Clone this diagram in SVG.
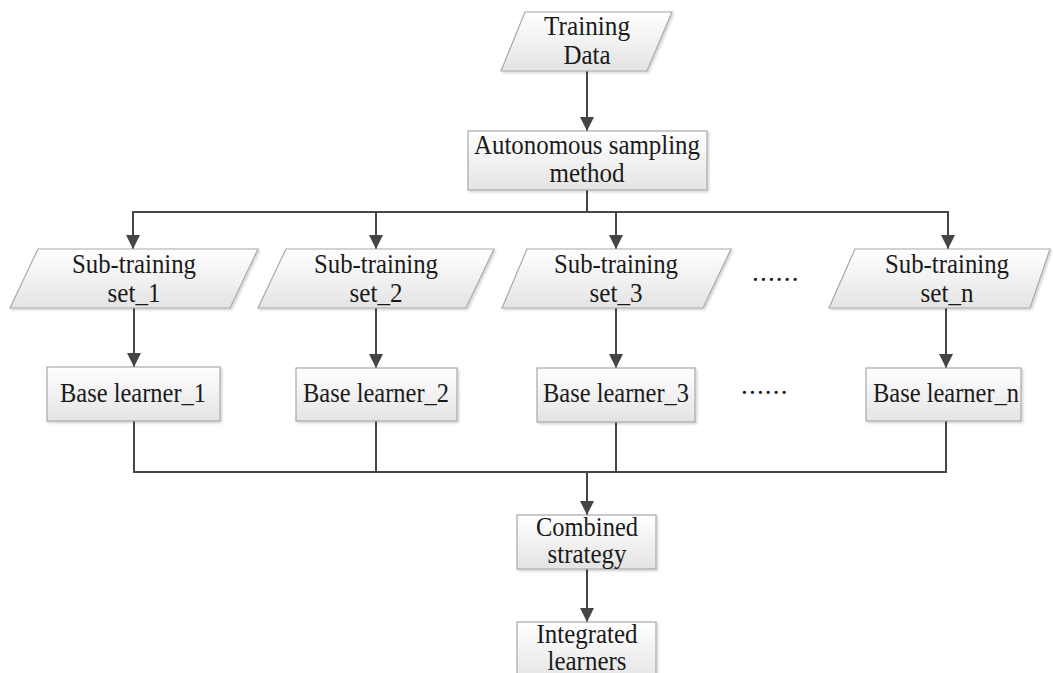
<svg xmlns="http://www.w3.org/2000/svg" width="1053" height="673" viewBox="0 0 1053 673">
<style>
.nd{fill:url(#g);stroke:#a9a9a9;stroke-width:1.2;filter:url(#sh)}
.t{font-family:"Liberation Serif","Times New Roman",serif;font-size:27px;fill:#1a1a1a;text-anchor:middle}
.dots{font-family:"Liberation Serif","Times New Roman",serif;font-size:27px;fill:#1a1a1a;letter-spacing:1.2px}
.c{fill:none;stroke:#454545;stroke-width:2}
.a{marker-end:url(#ah)}
</style>
<defs>
<linearGradient id="g" x1="0" y1="0" x2="0" y2="1">
<stop offset="0" stop-color="#ffffff"/>
<stop offset="1" stop-color="#e4e4e4"/>
</linearGradient>
<filter id="sh" x="-10%" y="-10%" width="120%" height="130%">
<feDropShadow dx="1.5" dy="1.5" stdDeviation="1" flood-color="#000" flood-opacity="0.18"/>
</filter>
<marker id="ah" viewBox="0 0 14 14" refX="14" refY="7" markerWidth="14" markerHeight="14" markerUnits="userSpaceOnUse" orient="auto">
<path d="M0,0 L14,7 L0,14 Z" fill="#454545"/>
</marker>
</defs>
<g id="connectors">
<line class="c a" x1="587" y1="71" x2="587" y2="131"/>
<line class="c" x1="587" y1="190" x2="587" y2="212"/>
<line class="c" x1="133" y1="212" x2="948" y2="212"/>
<line class="c a" x1="133" y1="211" x2="133" y2="249"/>
<line class="c a" x1="376" y1="212" x2="376" y2="249"/>
<line class="c a" x1="616" y1="212" x2="616" y2="249"/>
<line class="c a" x1="948" y1="211" x2="948" y2="249"/>
<line class="c a" x1="134" y1="308" x2="134" y2="367"/>
<line class="c a" x1="376" y1="308" x2="376" y2="368"/>
<line class="c a" x1="616" y1="308" x2="616" y2="368"/>
<line class="c a" x1="946" y1="308" x2="946" y2="368"/>
<line class="c" x1="134" y1="421" x2="134" y2="472"/>
<line class="c" x1="376" y1="421" x2="376" y2="472"/>
<line class="c" x1="616" y1="422" x2="616" y2="472"/>
<line class="c" x1="946" y1="421" x2="946" y2="472"/>
<line class="c" x1="133" y1="472" x2="947" y2="472"/>
<line class="c a" x1="587" y1="472" x2="587" y2="515"/>
<line class="c a" x1="587" y1="569" x2="587" y2="622"/>
</g>
<g id="training-data">
<polygon class="nd" points="525,12 672,12 647,71 501,71"/>
<text class="t" x="587" y="35" textLength="86" lengthAdjust="spacingAndGlyphs">Training</text>
<text class="t" x="587" y="64" textLength="47" lengthAdjust="spacingAndGlyphs">Data</text>
</g>
<g id="autonomous-sampling">
<rect class="nd" x="468" y="131" width="239" height="59"/>
<text class="t" x="587" y="154" textLength="226" lengthAdjust="spacingAndGlyphs">Autonomous sampling</text>
<text class="t" x="587" y="182" textLength="75" lengthAdjust="spacingAndGlyphs">method</text>
</g>
<g id="sub-training-1">
<polygon class="nd" points="38,249 258,249 230,308 10,308"/>
<text class="t" x="134" y="273" textLength="124" lengthAdjust="spacingAndGlyphs">Sub-training</text>
<text class="t" x="134" y="302" textLength="53" lengthAdjust="spacingAndGlyphs">set_1</text>
</g>
<g id="sub-training-2">
<polygon class="nd" points="286,249 494,249 466,308 258,308"/>
<text class="t" x="376" y="273" textLength="124" lengthAdjust="spacingAndGlyphs">Sub-training</text>
<text class="t" x="376" y="302" textLength="53" lengthAdjust="spacingAndGlyphs">set_2</text>
</g>
<g id="sub-training-3">
<polygon class="nd" points="527,249 731,249 703,308 502,308"/>
<text class="t" x="616" y="273" textLength="124" lengthAdjust="spacingAndGlyphs">Sub-training</text>
<text class="t" x="616" y="302" textLength="53" lengthAdjust="spacingAndGlyphs">set_3</text>
</g>
<g id="dots-1">
<text class="dots" x="752" y="281">......</text>
</g>
<g id="sub-training-n">
<polygon class="nd" points="855,249 1050,249 1030,308 829,308"/>
<text class="t" x="947" y="273" textLength="124" lengthAdjust="spacingAndGlyphs">Sub-training</text>
<text class="t" x="947" y="302" textLength="53" lengthAdjust="spacingAndGlyphs">set_n</text>
</g>
<g id="base-learner-1">
<rect class="nd" x="47" y="367" width="173" height="54"/>
<text class="t" x="133" y="402" textLength="146" lengthAdjust="spacingAndGlyphs">Base learner_1</text>
</g>
<g id="base-learner-2">
<rect class="nd" x="296" y="368" width="161" height="53"/>
<text class="t" x="376" y="402" textLength="146" lengthAdjust="spacingAndGlyphs">Base learner_2</text>
</g>
<g id="base-learner-3">
<rect class="nd" x="537" y="368" width="158" height="54"/>
<text class="t" x="616" y="402" textLength="146" lengthAdjust="spacingAndGlyphs">Base learner_3</text>
</g>
<g id="dots-2">
<text class="dots" x="741" y="394">......</text>
</g>
<g id="base-learner-n">
<rect class="nd" x="866" y="368" width="155" height="53"/>
<text class="t" x="946" y="402" textLength="146" lengthAdjust="spacingAndGlyphs">Base learner_n</text>
</g>
<g id="combined-strategy">
<rect class="nd" x="517" y="515" width="139" height="54"/>
<text class="t" x="587" y="536" textLength="102" lengthAdjust="spacingAndGlyphs">Combined</text>
<text class="t" x="587" y="563" textLength="79" lengthAdjust="spacingAndGlyphs">strategy</text>
</g>
<g id="integrated-learners">
<rect class="nd" x="517" y="622" width="139" height="60"/>
<text class="t" x="587" y="643" textLength="101" lengthAdjust="spacingAndGlyphs">Integrated</text>
<text class="t" x="587" y="670" textLength="79" lengthAdjust="spacingAndGlyphs">learners</text>
</g>
</svg>
